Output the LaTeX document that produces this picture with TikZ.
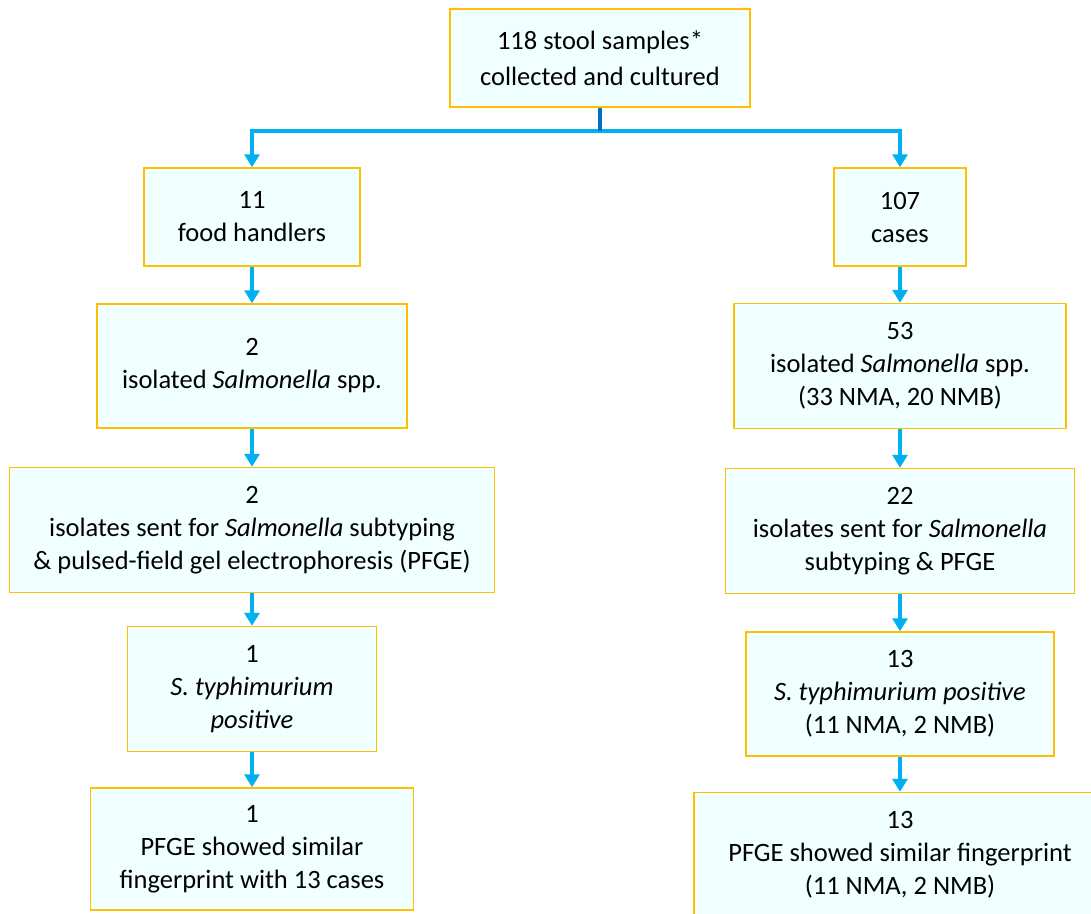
\documentclass[tikz,border=0pt]{standalone}
\usepackage{fontspec}
\setmainfont{Carlito}
\usetikzlibrary{arrows.meta}
\definecolor{boxgold}{HTML}{FFC000}
\definecolor{boxfill}{HTML}{F0FFFF}
\definecolor{linkblue}{HTML}{00B0F0}
\definecolor{stubblue}{HTML}{0070C0}
\tikzset{
  box/.style={draw=boxgold, fill=boxfill, line width=1.5pt, align=center,
    inner sep=0pt, font=\fontsize{26.5}{33}\selectfont},
  link/.style={draw=linkblue, line width=4pt, -{Triangle[width=15pt,length=13pt]}},
}
\begin{document}
\begin{tikzpicture}[x=1pt, y=-1pt]
  \useasboundingbox (0,0) rectangle (1091,913);
  \clip (0,0) rectangle (1091,913);
  % top
  \node[box, minimum width=300pt, minimum height=98pt, font=\fontsize{26.5}{36}\selectfont]
    (samples) at (600,58) {118 stool samples*\\collected and cultured};
  \coordinate (split) at (600,131);
  % food handlers
  \begin{scope}
    \node[box, minimum width=216pt, minimum height=98pt] (food) at (252,217) {11\\food handlers};
    \node[box, minimum width=310pt, minimum height=124pt] (isoL) at (252,366)
      {2\\isolated \textit{Salmonella} spp.};
    \node[box, minimum width=485pt, minimum height=125pt] (sentL) at (252,530)
      {2\\isolates sent for \textit{Salmonella} subtyping\\\& pulsed-field gel electrophoresis (PFGE)};
    \node[box, minimum width=249pt, minimum height=125pt] (typhL) at (252,689)
      {1\\\textit{S. typhimurium}\\\textit{positive}};
    \node[box, minimum width=323pt, minimum height=122pt] (pfgeL) at (252,849)
      {1\\PFGE showed similar\\fingerprint with 13 cases};
    \draw[link] (food) -- (isoL);
    \draw[link] (isoL) -- (sentL);
    \draw[link] (sentL) -- (typhL);
    \draw[link] (typhL) -- (pfgeL);
  \end{scope}
  % cases
  \begin{scope}
    \node[box, minimum width=132pt, minimum height=98pt] (cases) at (900,217) {107\\cases};
    \node[box, minimum width=332pt, minimum height=125pt] (isoR) at (900,366)
      {53\\isolated \textit{Salmonella} spp.\\(33 NMA, 20 NMB)};
    \node[box, minimum width=349pt, minimum height=125pt] (sentR) at (900,531)
      {22\\isolates sent for \textit{Salmonella}\\subtyping \& PFGE};
    \node[box, minimum width=308pt, minimum height=124pt] (typhR) at (900,694)
      {13\\\textit{S. typhimurium positive}\\(11 NMA, 2 NMB)};
    \node[box, minimum width=412pt, minimum height=125pt] (pfgeR) at (900,855)
      {13\\PFGE showed similar fingerprint\\(11 NMA, 2 NMB)};
    \draw[link] (cases) -- (isoR);
    \draw[link] (isoR) -- (sentR);
    \draw[link] (sentR) -- (typhR);
    \draw[link] (typhR) -- (pfgeR);
  \end{scope}
  % branch
  \draw[link] (split) -| (food.north);
  \draw[link] (split) -| (cases.north);
  \draw[stubblue, line width=4pt] (samples.south) -- (split);
\end{tikzpicture}
\end{document}
